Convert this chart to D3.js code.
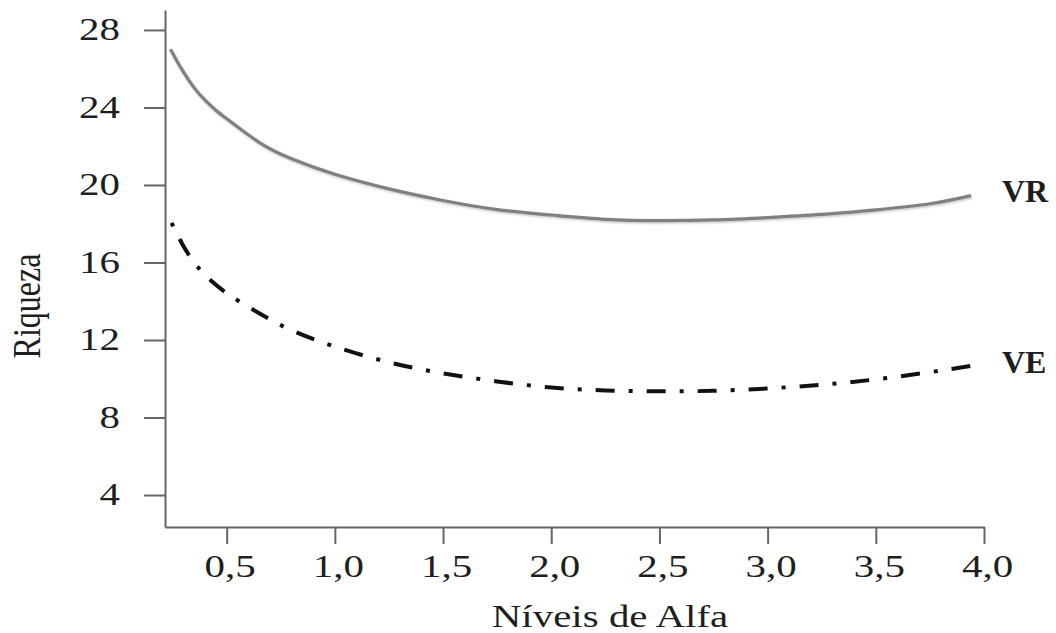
<!DOCTYPE html>
<html>
<head>
<meta charset="utf-8">
<script src="https://cdn.jsdelivr.net/npm/d3@7"></script>
<style>
  body { margin: 0; background: #ffffff; }
  svg text { font-family: "Liberation Serif", "Times New Roman", Tinos, Times, serif !important; fill: #1e1e1e; }
</style>
</head>
<body>
<svg id="chart" width="1056" height="633"></svg>
<script>
// Riqueza (richness) versus alpha level for the two estimators
const alphaVR   = [0.24, 0.27, 0.3, 0.35, 0.4, 0.45, 0.5, 0.65, 0.8, 1.0, 1.25, 1.5, 1.75, 2.0, 2.25, 2.5, 2.75, 3.0, 3.25, 3.5, 3.75, 3.94];
const riquezaVR = [27.0, 26.4, 25.84, 25.01, 24.38, 23.86, 23.42, 22.2, 21.35, 20.55, 19.8, 19.2, 18.73, 18.45, 18.23, 18.16, 18.2, 18.32, 18.48, 18.72, 19.03, 19.45];

const alphaVE   = [0.245, 0.3, 0.35, 0.4, 0.5, 0.65, 0.8, 1.0, 1.25, 1.5, 1.75, 2.0, 2.25, 2.5, 2.75, 3.0, 3.25, 3.5, 3.75, 3.94];
const riquezaVE = [18.05, 16.85, 16.0, 15.35, 14.42, 13.38, 12.5, 11.66, 10.85, 10.28, 9.86, 9.55, 9.40, 9.35, 9.38, 9.5, 9.69, 9.97, 10.34, 10.66];

const xTicks = [0.5, 1.0, 1.5, 2.0, 2.5, 3.0, 3.5, 4.0];
const xTickLabels = ["0,5", "1,0", "1,5", "2,0", "2,5", "3,0", "3,5", "4,0"];
const yTicks = [4, 8, 12, 16, 20, 24, 28];

const seriesNames = ["VR", "VE"];
const xTitle = "Níveis de Alfa";
const yTitle = "Riqueza";

const svg = d3.select("#chart");

const x = d3.scaleLinear().domain([0.215, 4.0]).range([165, 984]);
const y = d3.scaleLinear().domain([2.35, 29.03]).range([527, 10]);

const axisColor = "#666666";
const stretch = 1.28;

// soft shadow under the solid curve
const defs = svg.append("defs");
const f = defs.append("filter").attr("id", "soft").attr("x", "-5%").attr("y", "-5%").attr("width", "110%").attr("height", "120%");
f.append("feDropShadow").attr("dx", 0.8).attr("dy", 1.2).attr("stdDeviation", 1.2)
  .attr("flood-color", "#000").attr("flood-opacity", 0.25);

// Y axis
const yAxis = svg.append("g")
  .attr("transform", `translate(${x.range()[0]},0)`)
  .call(d3.axisLeft(y).tickValues(yTicks).tickSize(21).tickSizeOuter(0).tickPadding(0).tickFormat(d3.format("d")));
yAxis.select(".domain").attr("stroke", axisColor).attr("stroke-width", 2);
yAxis.selectAll(".tick line").attr("stroke", axisColor).attr("stroke-width", 2);
yAxis.selectAll(".tick text")
  .attr("x", -45 / stretch).attr("dy", "0.3em")
  .attr("transform", `scale(${stretch},1)`)
  .style("font-size", "32px");

// X axis
const xAxis = svg.append("g")
  .attr("transform", `translate(0,${y.range()[0]})`)
  .call(d3.axisBottom(x).tickValues(xTicks).tickSize(17).tickSizeOuter(0)
    .tickFormat((d, i) => xTickLabels[i]));
xAxis.select(".domain").attr("stroke", axisColor).attr("stroke-width", 2);
xAxis.selectAll(".tick line").attr("stroke", axisColor).attr("stroke-width", 2);
xAxis.selectAll(".tick text")
  .attr("x", 3 / stretch).attr("y", 50).attr("dy", 0)
  .attr("transform", `scale(${stretch},1)`)
  .style("font-size", "32px");

// Axis titles
svg.append("text")
  .attr("transform", `translate(610,627) scale(${stretch},1)`)
  .attr("text-anchor", "middle")
  .style("font-size", "32px")
  .text(xTitle);

svg.append("text")
  .attr("transform", `translate(40,306) scale(${stretch},1) rotate(-90)`)
  .attr("text-anchor", "middle")
  .style("font-size", "32px")
  .text(yTitle);

// Curves
const line = d3.line().x(d => x(d[0])).y(d => y(d[1])).curve(d3.curveNatural);

svg.append("path")
  .datum(d3.zip(alphaVR, riquezaVR))
  .attr("d", line)
  .attr("fill", "none")
  .attr("stroke", "#808080")
  .attr("stroke-width", 3.2)
  .attr("filter", "url(#soft)");

svg.append("path")
  .datum(d3.zip(alphaVE, riquezaVE))
  .attr("d", line)
  .attr("fill", "none")
  .attr("stroke", "#111")
  .attr("stroke-width", 4)
  .attr("stroke-dasharray", "4,14,19,14");

// Series labels at the curve ends
svg.append("text").attr("x", 1002).attr("y", 202)
  .style("font-size", "32px").style("font-weight", "bold")
  .text(seriesNames[0]);
svg.append("text").attr("x", 1002).attr("y", 373)
  .style("font-size", "32px").style("font-weight", "bold")
  .text(seriesNames[1]);
</script>
</body>
</html>
